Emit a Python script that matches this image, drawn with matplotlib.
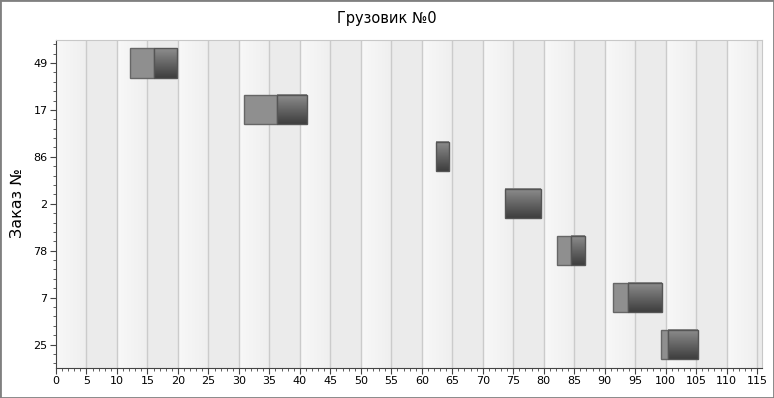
import numpy as np
import matplotlib
matplotlib.use("Agg")
import matplotlib.pyplot as plt
from matplotlib.patches import Rectangle
from matplotlib.ticker import MultipleLocator
from matplotlib.colors import LinearSegmentedColormap

# Данные (сверху вниз)
orders = ["49", "17", "86", "2", "78", "7", "25"]
wait_start = [12.2, 30.8, 62.3, 73.6, 82.1, 91.4, 99.3]
service_start = [16.0, 36.3, 62.3, 73.6, 84.5, 93.9, 100.4]
service_end = [19.8, 41.1, 64.4, 79.5, 86.7, 99.4, 105.3]

title = "Грузовик №0"
ylabel = "Заказ №"
x_max = 115.8

fig = plt.figure(figsize=(7.74, 3.98), dpi=100)
ax = fig.add_axes([56/774, 1 - 368/398, 706/774, (368 - 39.5)/398])

n = len(orders)
ypos = np.arange(n)[::-1]   # 49 сверху

# фон — чередующиеся полосы по 5
band_cmap = LinearSegmentedColormap.from_list("b", ["#f8f8f8", "#efefef"])
grad = np.linspace(0, 1, 64).reshape(1, -1)
for i, x0 in enumerate(np.arange(0, x_max, 5)):
    x1 = min(x0 + 5, x_max)
    if i % 2 == 0:
        ax.imshow(grad, extent=[x0, x1, -0.5, n - 0.5], aspect="auto",
                  cmap=band_cmap, vmin=0, vmax=1, zorder=0, interpolation="bilinear")
    else:
        ax.axvspan(x0, x1, color="#ebebeb", zorder=0, lw=0)
for x in np.arange(5, x_max, 5):
    ax.axvline(x, color="#cbcbcb", lw=1, zorder=1)

# бары: ожидание (светлое) + обслуживание (градиент)
h = 0.62
dark_cmap = LinearSegmentedColormap.from_list("d", ["#8e8e8e", "#3e3e3e"])
vgrad = np.linspace(0, 1, 64).reshape(-1, 1)   # строка 0 — верх
for y, ws, ss, se in zip(ypos, wait_start, service_start, service_end):
    if ss - ws > 0.01:
        ax.add_patch(Rectangle((ws, y - h/2), ss - ws, h, facecolor="#8f8f8f",
                               edgecolor="#666666", lw=1, zorder=3))
    ax.imshow(vgrad, extent=[ss, se, y - h/2, y + h/2], aspect="auto", origin="upper",
              cmap=dark_cmap, vmin=0, vmax=1, zorder=3, interpolation="bilinear")
    ax.add_patch(Rectangle((ss, y - h/2), se - ss, h, facecolor="none",
                           edgecolor="#555555", lw=1, zorder=4))

ax.set_xlim(0, x_max)
ax.set_ylim(-0.5, n - 0.5)

ax.set_xticks(np.arange(0, 116, 5))
ax.xaxis.set_minor_locator(MultipleLocator(1))
ax.set_yticks(ypos)
ax.set_yticklabels(orders)
ax.yaxis.set_minor_locator(MultipleLocator(0.2))
ax.tick_params(axis="both", which="major", labelsize=8, length=4, color="#444444", direction="out", pad=2)
ax.tick_params(axis="both", which="minor", length=2, color="#444444", direction="out")

for s in ["top", "right"]:
    ax.spines[s].set_color("#c8c8c8")
for s in ["left", "bottom"]:
    ax.spines[s].set_color("#444444")

fig.text(0.5, 1 - 18/398, title, ha="center", va="center", fontsize=10.5)
fig.text(17/774, 1 - 203/398, ylabel, ha="center", va="center", rotation=90, fontsize=11.5)

fig.patches.append(Rectangle((0, 0), 1, 1, transform=fig.transFigure, fill=False,
                             edgecolor="#808080", lw=2))

fig.savefig("out.png", dpi=100)
